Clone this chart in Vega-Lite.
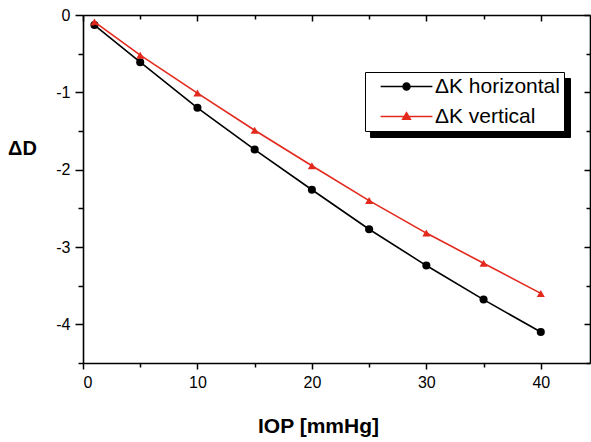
{
  "$schema": "https://vega.github.io/schema/vega-lite/v6.json",
  "width": 507,
  "height": 348,
  "autosize": {"type": "none"},
  "padding": {"left": 83, "top": 15, "right": 1, "bottom": 79},
  "config": {
    "view": {"stroke": null},
    "font": "Liberation Sans",
    "axis": {
      "grid": false,
      "domainColor": "#000000",
      "domainWidth": 1.6,
      "tickColor": "#000000",
      "tickWidth": 1.5,
      "labelFont": "Liberation Sans",
      "labelFontSize": 16,
      "labelColor": "#000000",
      "labelPadding": 5,
      "titleFont": "Liberation Sans",
      "titleFontSize": 20,
      "titleFontWeight": "bold",
      "titleColor": "#000000"
    }
  },
  "data": {
    "values": [
      {"iop": 1, "dD": -0.13, "series": "ΔK horizontal"},
      {"iop": 5, "dD": -0.61, "series": "ΔK horizontal"},
      {"iop": 10, "dD": -1.2, "series": "ΔK horizontal"},
      {"iop": 15, "dD": -1.74, "series": "ΔK horizontal"},
      {"iop": 20, "dD": -2.26, "series": "ΔK horizontal"},
      {"iop": 25, "dD": -2.77, "series": "ΔK horizontal"},
      {"iop": 30, "dD": -3.24, "series": "ΔK horizontal"},
      {"iop": 35, "dD": -3.68, "series": "ΔK horizontal"},
      {"iop": 40, "dD": -4.1, "series": "ΔK horizontal"},
      {"iop": 1, "dD": -0.09, "series": "ΔK vertical"},
      {"iop": 5, "dD": -0.52, "series": "ΔK vertical"},
      {"iop": 10, "dD": -1.01, "series": "ΔK vertical"},
      {"iop": 15, "dD": -1.49, "series": "ΔK vertical"},
      {"iop": 20, "dD": -1.95, "series": "ΔK vertical"},
      {"iop": 25, "dD": -2.4, "series": "ΔK vertical"},
      {"iop": 30, "dD": -2.82, "series": "ΔK vertical"},
      {"iop": 35, "dD": -3.21, "series": "ΔK vertical"},
      {"iop": 40, "dD": -3.6, "series": "ΔK vertical"}
    ]
  },
  "layer": [
    {
      "mark": {"type": "point", "filled": true, "size": 65, "opacity": 1},
      "encoding": {
        "x": {
          "field": "iop", "type": "quantitative",
          "scale": {"domain": [0, 44.3], "nice": false, "zero": false},
          "axis": {
            "orient": "bottom", "offset": -348, "labels": false, "title": null,
            "values": [0, 5, 10, 15, 20, 25, 30, 35, 40],
            "tickSize": {"condition": {"test": "datum.value % 10 === 0", "value": 6}, "value": 4}
          }
        },
        "y": {
          "field": "dD", "type": "quantitative",
          "scale": {"domain": [-4.5, 0], "nice": false, "zero": false},
          "axis": {
            "orient": "left", "offset": -507, "labels": false, "title": null,
            "values": [0, -0.5, -1, -1.5, -2, -2.5, -3, -3.5, -4, -4.5],
            "tickSize": {"condition": {"test": "datum.value % 1 === 0", "value": 6}, "value": 4}
          }
        },
        "shape": {
          "field": "series", "type": "nominal",
          "scale": {"domain": ["ΔK horizontal", "ΔK vertical"], "range": ["circle", "triangle-up"]},
          "legend": null
        },
        "color": {
          "field": "series", "type": "nominal",
          "scale": {"domain": ["ΔK horizontal", "ΔK vertical"], "range": ["#000000", "#e3291d"]},
          "legend": {
            "orient": "none", "legendX": 287, "legendY": 63, "title": null,
            "fillColor": "#000000", "strokeColor": "#000000",
            "padding": 4, "rowPadding": 8, "symbolSize": 196, "symbolOffset": 27,
            "labelOffset": 144, "labelFontSize": 21, "labelFont": "Liberation Sans",
            "labelExpr": "''",
            "symbolOpacity": 0, "labelOpacity": 0
          }
        }
      }
    },
    {
      "mark": {"type": "line", "strokeWidth": 1.6},
      "encoding": {
        "x": {
          "field": "iop", "type": "quantitative",
          "scale": {"domain": [0, 44.3], "nice": false, "zero": false},
          "axis": {
            "orient": "bottom",
            "values": [0, 5, 10, 15, 20, 25, 30, 35, 40],
            "labelExpr": "datum.value % 10 === 0 ? '' + datum.value : ''",
            "tickSize": {"condition": {"test": "datum.value % 10 === 0", "value": 6}, "value": 4},
            "title": "IOP [mmHg]",
            "titleX": 235, "titleY": 69, "titleAlign": "center", "titleBaseline": "alphabetic",
            "titleFontSize": 21
          }
        },
        "y": {
          "field": "dD", "type": "quantitative",
          "scale": {"domain": [-4.5, 0], "nice": false, "zero": false},
          "axis": {
            "orient": "left",
            "values": [0, -0.5, -1, -1.5, -2, -2.5, -3, -3.5, -4, -4.5],
            "labelExpr": "datum.value % 1 === 0 ? '' + datum.value : ''",
            "tickSize": {"condition": {"test": "datum.value % 1 === 0", "value": 8}, "value": 5},
            "title": "ΔD",
            "titleAngle": 0, "titleX": -61, "titleY": 139, "titleAlign": "center", "titleBaseline": "alphabetic",
            "titleFontSize": 20
          }
        },
        "color": {
          "field": "series", "type": "nominal",
          "scale": {"domain": ["ΔK horizontal", "ΔK vertical"], "range": ["#000000", "#e3291d"]},
          "legend": {
            "orient": "none", "legendX": 282, "legendY": 57, "title": null,
            "fillColor": "#ffffff", "strokeColor": "#000000",
            "padding": 4, "rowPadding": 8, "symbolSize": 196, "symbolOffset": 27,
            "labelOffset": 18, "labelFontSize": 21, "labelFont": "Liberation Sans", "labelColor": "#000000",
            "symbolStrokeWidth": 1.5,
            "encode": {
              "symbols": {
                "update": {
                  "shape": {"signal": "datum.value === 'ΔK horizontal' ? 'M-3.7,0H3.7M-0.5,0A0.5,0.5,0,1,0,0.5,0A0.5,0.5,0,1,0,-0.5,0Z' : 'M-3.7,0H3.7M0,-0.55L0.55,0.4L-0.55,0.4Z'"},
                  "fill": {"signal": "datum.value === 'ΔK horizontal' ? '#000000' : '#e3291d'"}
                }
              }
            }
          }
        }
      }
    }
  ],
  "resolve": {
    "axis": {"x": "independent", "y": "independent"},
    "scale": {"color": "independent"}
  }
}
